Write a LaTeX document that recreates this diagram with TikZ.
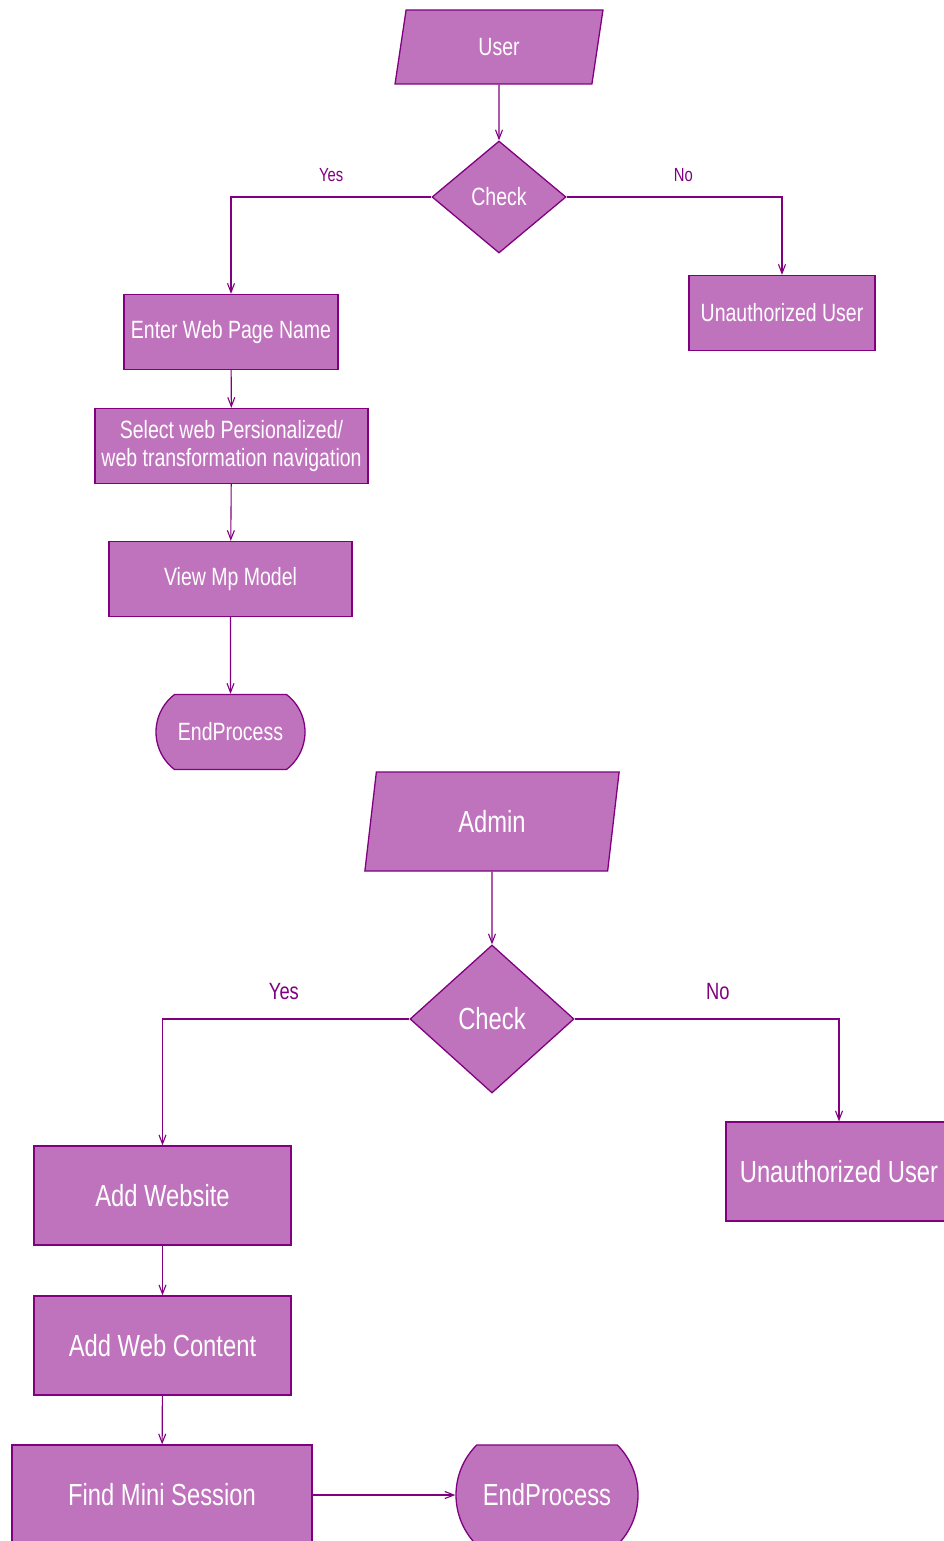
\documentclass[tikz,border=0pt]{standalone}
\usepackage{fontspec}
\setmainfont{Liberation Sans}[FakeStretch=0.78]
\usepackage{tikz}
\usetikzlibrary{arrows.meta, shapes.geometric, shapes.misc}
\definecolor{orch}{RGB}{191,115,189}
\definecolor{purp}{RGB}{128,0,128}

\begin{document}
\begin{tikzpicture}[x=1pt, y=-1pt,
  >={Straight Barb[length=9pt, width=7pt]},
  box/.style={rectangle, draw=purp, fill=orch, line width=1.3pt,
              text=white, inner sep=0pt, align=center},
  io/.style={box, trapezium, trapezium stretches=true},
  dec/.style={box, diamond},
  term/.style={box, rounded rectangle},
  small/.style={font=\fontsize{25}{28}\selectfont},
  big/.style={font=\fontsize{30.5}{34}\selectfont},
  lbl/.style={text=purp, inner sep=0pt},
  flow/.style={->, purp, line width=1.1pt}
]
  \useasboundingbox (0,0) rectangle (944,1541);
  \clip (0,0) rectangle (944,1541);

  %% ── user flow ──
  \node[io, small, trapezium left angle=82, trapezium right angle=98,
        minimum width=208pt, minimum height=74pt] (user) at (499,47) {User};
  \node[dec, small, minimum width=134pt, minimum height=112pt] (chk1) at (499,197) {Check};
  \node[box, small, minimum width=214pt, minimum height=75pt] (page) at (231,332) {Enter Web Page Name};
  \node[box, small, minimum width=186pt, minimum height=75pt] (unau1) at (782,313) {Unauthorized User};
  \node[box, small, minimum width=273pt, minimum height=75pt] (sel) at (231.5,446)
    {Select web Persionalized/\\web transformation navigation};
  \node[box, small, minimum width=243pt, minimum height=75pt] (view) at (230.5,579) {View Mp Model};
  \node[term, small, rounded rectangle arc length=105,
        minimum width=149pt, minimum height=75pt] (end1) at (230.5,732) {EndProcess};

  \draw[flow] (user) -- (chk1);
  \draw[flow] (chk1.west) -| node[pos=0.25, above=15pt, lbl,
    font=\fontsize{19}{22}\selectfont] {Yes} (page.north);
  \draw[flow] (chk1.east) -| node[pos=0.25, above=15pt, xshift=9pt, lbl,
    font=\fontsize{19}{22}\selectfont] {No} (unau1.north);
  \draw[flow] (page) -- (sel);
  \draw[flow] (sel) -- (view);
  \draw[flow] (view) -- (end1);

  %% ── admin flow ──
  \node[io, big, trapezium left angle=81.5, trapezium right angle=98.5,
        minimum width=256pt, minimum height=99pt] (admin) at (492,821.5) {Admin};
  \node[dec, big, minimum width=164pt, minimum height=148pt] (chk2) at (492,1019) {Check};
  \node[box, big, minimum width=257pt, minimum height=99pt] (site) at (162.5,1195.5) {Add Website};
  \node[box, big, minimum width=226pt, minimum height=99pt] (unau2) at (839,1171.5) {Unauthorized User};
  \node[box, big, minimum width=257pt, minimum height=99pt] (cont) at (162.5,1345.5) {Add Web Content};
  \node[box, big, minimum width=300pt, minimum height=100pt] (mini) at (162,1495) {Find Mini Session};
  \node[term, big, rounded rectangle arc length=90,
        minimum width=182pt, minimum height=100pt] (end2) at (547,1495) {EndProcess};

  \draw[flow] (admin) -- (chk2);
  \draw[flow] (chk2.west) -| node[pos=0.25, above=19pt, xshift=-2pt, lbl,
    font=\fontsize{23.5}{26}\selectfont] {Yes} (site.north);
  \draw[flow] (chk2.east) -| node[pos=0.25, above=19pt, xshift=11pt, lbl,
    font=\fontsize{23.5}{26}\selectfont] {No} (unau2.north);
  \draw[flow] (site) -- (cont);
  \draw[flow] (cont) -- (mini);
  \draw[flow] (mini) -- (end2);
\end{tikzpicture}
\end{document}
